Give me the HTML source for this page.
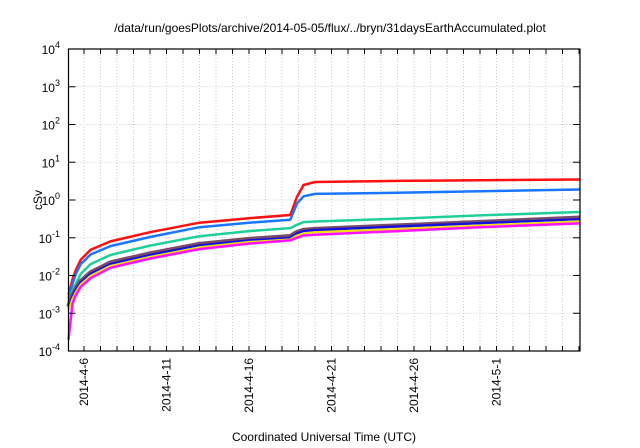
<!DOCTYPE html>
<html><head><meta charset="utf-8"><style>
html,body{margin:0;padding:0;background:#fff;}
svg{display:block;font-family:"Liberation Sans",sans-serif;}
</style></head><body>
<svg id="chart" width="640" height="448" viewBox="0 0 640 448">
<text x="330" y="32" font-size="12" text-anchor="middle">/data/run/goesPlots/archive/2014-05-05/flux/../bryn/31daysEarthAccumulated.plot</text>
<text x="0" y="0" font-size="12" text-anchor="middle" transform="translate(42,200) rotate(-90)">cSv</text>
<text x="324" y="441" font-size="12" text-anchor="middle">Coordinated Universal Time (UTC)</text>
<g id="grid"></g>
<g id="series"></g>
<g id="axes"></g>
</svg>
<script>
const days = [5.06,5.3,5.5,5.8,6.4,7.6,10,13,16,18.5,18.9,19.3,20,25,30,36.06];
const red = [0.003,0.008,0.014,0.026,0.048,0.08,0.14,0.25,0.33,0.4,1.2,2.5,3.0,3.2,3.35,3.5];
const lightBlue = [0.0025,0.006,0.011,0.02,0.036,0.06,0.105,0.19,0.25,0.3,0.8,1.25,1.45,1.55,1.7,1.9];
const teal = [0.002,0.004,0.006,0.011,0.02,0.035,0.062,0.11,0.15,0.18,0.22,0.26,0.27,0.32,0.39,0.48];
const purple = [0.0015,0.003,0.0045,0.007,0.012,0.022,0.038,0.068,0.092,0.11,0.14,0.16,0.17,0.21,0.26,0.34];
const darkBlue = [0.0014,0.0028,0.0042,0.0065,0.011,0.02,0.035,0.063,0.085,0.1,0.13,0.15,0.16,0.2,0.245,0.31];
const yellow = [0.0012,0.0024,0.0036,0.0058,0.0098,0.018,0.031,0.056,0.077,0.09,0.115,0.13,0.14,0.17,0.21,0.27];
const magenta = [0.0002,0.0018,0.003,0.005,0.0085,0.016,0.028,0.05,0.07,0.085,0.1,0.115,0.12,0.15,0.19,0.24];
const yExps = [-4,-3,-2,-1,0,1,2,3,4];
const xTickDays = [6,11,16,21,26,31];
const xTickLabels = ["2014-4-6","2014-4-11","2014-4-16","2014-4-21","2014-4-26","2014-5-1"];

const L=68.5,R=580,T=49,B=351,dMin=5.06,dMax=36.06,eMin=-4,eMax=4;
const NS="http://www.w3.org/2000/svg";
function xs(d){return L+(d-dMin)/(dMax-dMin)*(R-L);}
function ys(v){return B-(Math.log10(v)-eMin)/(eMax-eMin)*(B-T);}
function ye(e){return B-(e-eMin)/(eMax-eMin)*(B-T);}
function mk(tag,attrs,parent){const el=document.createElementNS(NS,tag);for(const k in attrs)el.setAttribute(k,attrs[k]);parent.appendChild(el);return el;}
const grid=document.getElementById('grid'),axes=document.getElementById('axes'),ser=document.getElementById('series');
for(let d=6;d<=36;d++){
  const x=xs(d);
  const g=mk('line',{x1:x,x2:x,y1:T,y2:B,stroke:'#bbb','stroke-width':0.8,'stroke-dasharray':'1,2'},grid);
  
  
  const t1=mk('line',{x1:x,x2:x,y1:B,y2:B-5,stroke:'#000','stroke-width':1},axes);
  
  
  const t2=mk('line',{x1:x,x2:x,y1:T,y2:T+5,stroke:'#000','stroke-width':1},axes);
  
  
}
yExps.forEach(e=>{
  const y=ye(e);
  if(e>eMin&&e<eMax){
    const g=mk('line',{x1:L,x2:R,y1:y,y2:y,stroke:'#bbb','stroke-width':0.8,'stroke-dasharray':'1,2'},grid);
    
    
  }
  const t1=mk('line',{x1:L,x2:L+7,y1:y,y2:y,stroke:'#000','stroke-width':1},axes);
  
  
  const t2=mk('line',{x1:R,x2:R-7,y1:y,y2:y,stroke:'#000','stroke-width':1},axes);
  
  
  const lab=mk('text',{x:60,y:y+5,'font-size':12,'text-anchor':'end'},axes);
  
  
  lab.appendChild(document.createTextNode('10'));
  const sup=mk('tspan',{dy:-6,'font-size':9},lab);
  sup.textContent=String(e);
});
xTickDays.forEach((d,i)=>{
  const x=xs(d);
  const lab=mk('text',{x:0,y:0,'font-size':12,'text-anchor':'end',transform:`translate(${x+4},358) rotate(-90)`},axes);
  
  
  lab.textContent=xTickLabels[i];
});
const frame=mk('rect',{x:L,y:T,width:R-L,height:B-T,fill:'none',stroke:'#000','stroke-width':1.2},axes);


const series=[[red,'#ff1010',2.5,'series-red'],[lightBlue,'#1a75ff',2.5,'series-light-blue'],[teal,'#1ecf9a',2.5,'series-teal'],[purple,'#7a4a6a',4.5,'series-purple'],[darkBlue,'#1010e0',2.2,'series-dark-blue'],[yellow,'#f0e010',2.2,'series-yellow'],[magenta,'#ff10ff',2.5,'series-magenta']];
series.forEach(([vals,col,w,name])=>{
  const pts=days.map((d,i)=>xs(d).toFixed(1)+','+ys(vals[i]).toFixed(1)).join(' ');
  const p=mk('polyline',{points:pts,fill:'none',stroke:col,'stroke-width':w,'stroke-linejoin':'round'},ser);
  
  
});
</script>
</body></html>
